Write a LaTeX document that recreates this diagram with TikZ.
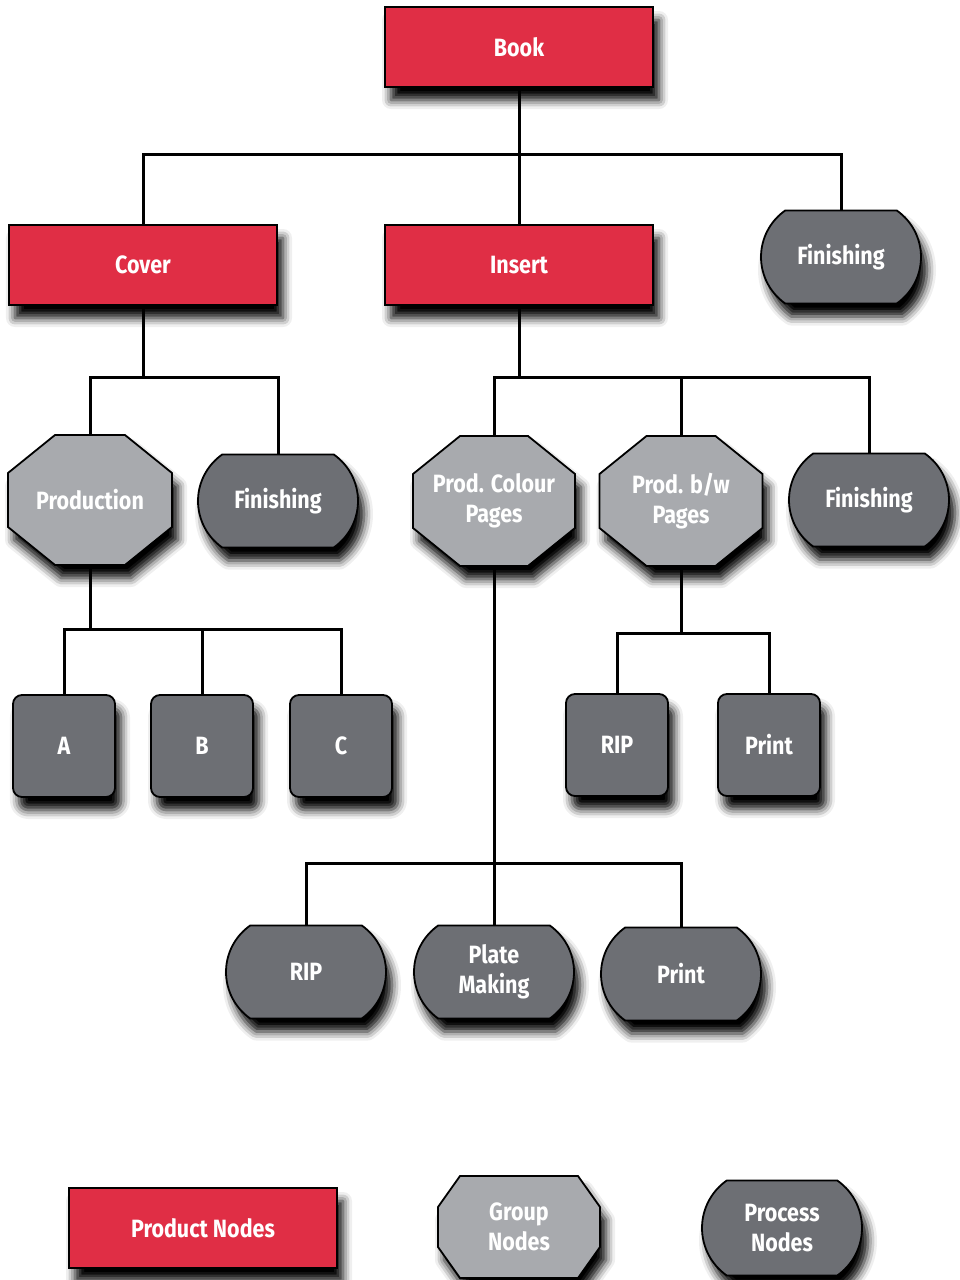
\documentclass[tikz,border=0pt]{standalone}
\usepackage{fontspec}
\setmainfont{Fira Sans}[FakeStretch=0.86]
\usetikzlibrary{shapes.misc,shadows.blur}
\definecolor{prodred}{HTML}{E02E45}
\definecolor{grpgray}{HTML}{A8AAAE}
\definecolor{procgray}{HTML}{6D6F74}
\tikzset{
 shd/.style={blur shadow={shadow xshift=6pt, shadow yshift=-13pt, shadow blur radius=9pt, shadow opacity=100}},
 nodefont/.style={font=\fontsize{25}{30}\selectfont\bfseries},
 base/.style={draw=black, line width=1.8pt, text=white, nodefont, align=center, inner sep=0pt, shd},
 product/.style={base, rectangle, fill=prodred, minimum width=268pt, minimum height=80pt},
 grpshape/.style={draw=black, line width=1.8pt, fill=grpgray, shd},
 grptext/.style={rectangle, text=white, nodefont, align=center, inner sep=0pt},
 process/.style={base, rounded rectangle, rounded rectangle arc length=110, fill=procgray, minimum width=160pt, minimum height=93pt},
 task/.style={base, rectangle, rounded corners=9pt, fill=procgray, minimum width=102pt, minimum height=102pt},
 conn/.style={line width=3pt}}
% group node: name, x, y, width, height, chamfer x, chamfer y, text
\newcommand\grpnode[8]{%
 \draw[grpshape] ({#2-#4/2+#6},{#3-#5/2}) -- ({#2+#4/2-#6},{#3-#5/2}) -- ({#2+#4/2},{#3-#5/2+#7})
   -- ({#2+#4/2},{#3+#5/2-#7}) -- ({#2+#4/2-#6},{#3+#5/2}) -- ({#2-#4/2+#6},{#3+#5/2})
   -- ({#2-#4/2},{#3+#5/2-#7}) -- ({#2-#4/2},{#3-#5/2+#7}) -- cycle;
 \node[grptext, minimum width=#4pt, minimum height=#5pt] (#1) at (#2,#3) {#8};}
\begin{document}
\begin{tikzpicture}[x=1pt,y=-1pt]
\useasboundingbox (0,0) rectangle (959,1280);
% product nodes
\node[product] (book) at (519,47) {Book};
\node[product] (cover) at (143,265) {Cover};
\node[product] (insert) at (519,265) {Insert};
\node[process] (fin1) at (841,257) {Finishing};
% level 2
\grpnode{prodn}{90}{500}{164}{130}{47}{38}{Production}
\node[process] (fin2) at (278,501) {Finishing};
\grpnode{pcol}{494}{501}{162}{130}{47}{38}{Prod. Colour\\Pages}
\grpnode{pbw}{681}{501}{163}{130}{47}{38}{Prod. b/w\\Pages}
\node[process] (fin3) at (869,500) {Finishing};
% level 3
\node[task] (a) at (64,746) {A};
\node[task] (b) at (202,746) {B};
\node[task] (c) at (341,746) {C};
\node[task] (rip1) at (617,745) {RIP};
\node[task] (print1) at (769,745) {Print};
% level 4
\node[process] (rip2) at (306,972) {RIP};
\node[process] (plate) at (494,972) {Plate\\Making};
\node[process] (print2) at (681,974) {Print};
% legend
\node[product] (lprod) at (203,1228) {Product Nodes};
\grpnode{lgrp}{519}{1227}{162}{102}{22}{31}{Group\\Nodes}
\node[process, minimum height=95pt] (lproc) at (782,1228) {Process\\Nodes};
% junctions
\coordinate (j0) at (519,154);
\coordinate (j1) at (145,377);
\coordinate (j2) at (519,377);
\coordinate (j3) at (90,629);
\coordinate (j4) at (682,633);
\coordinate (j5) at (494,863);
% connectors
\draw[conn] (book.south) -- (insert.north);
\draw[conn] (cover.north) -- (cover.north |- j0) -- (fin1.north |- j0) -- (fin1.north);
\draw[conn] (cover.south) -- (cover.south |- j1);
\draw[conn] (prodn.north) -- (prodn.north |- j1) -- (fin2.north |- j1) -- (fin2.north);
\draw[conn] (insert.south) -- (insert.south |- j2);
\draw[conn] (pcol.north) -- (pcol.north |- j2) -- (fin3.north |- j2) -- (fin3.north);
\draw[conn] (pbw.north) -- (pbw.north |- j2);
\draw[conn] (prodn.south) -- (prodn.south |- j3);
\draw[conn] (a.north) -- (a.north |- j3) -- (c.north |- j3) -- (c.north);
\draw[conn] (b.north) -- (b.north |- j3);
\draw[conn] (pbw.south) -- (pbw.south |- j4);
\draw[conn] (rip1.north) -- (rip1.north |- j4) -- (print1.north |- j4) -- (print1.north);
\draw[conn] (pcol.south) -- (plate.north);
\draw[conn] (rip2.north) -- (rip2.north |- j5) -- (print2.north |- j5) -- (print2.north);
\end{tikzpicture}
\end{document}
